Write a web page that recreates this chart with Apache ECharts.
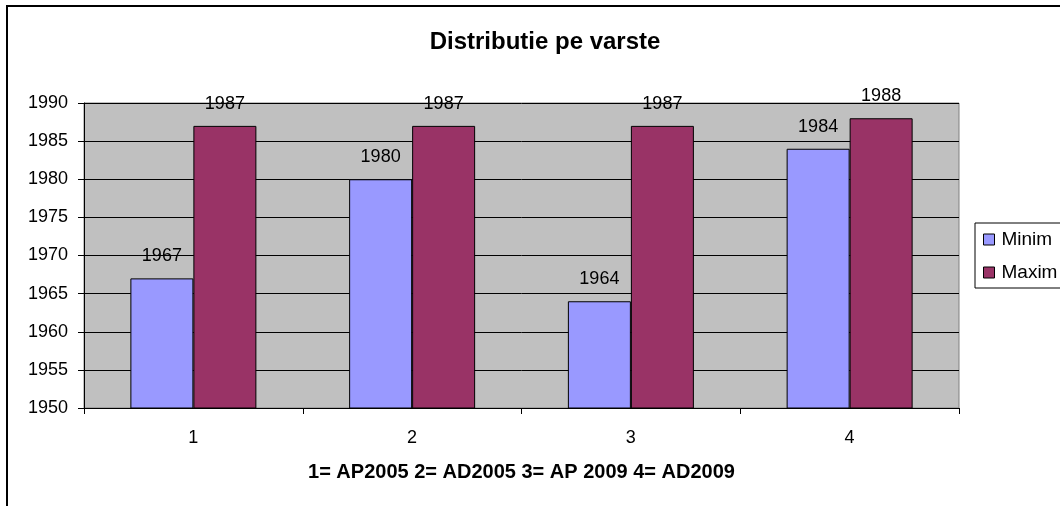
<!DOCTYPE html>
<html>
<head>
<meta charset="utf-8">
<script src="https://cdn.jsdelivr.net/npm/echarts@6/dist/echarts.min.js"></script>
<style>
  html, body { margin: 0; padding: 0; background: #fff; }
  #main { width: 1060px; height: 506px; }
</style>
</head>
<body>
<div id="main"></div>
<script>
// categorii si valori
var categories = ['1', '2', '3', '4'];
var minimVals = [1967, 1980, 1964, 1984];
var maximVals = [1987, 1987, 1987, 1988];
var seriesNames = ['Minim', 'Maxim'];

var fontFam = '"Liberation Sans", Arial, sans-serif';

var myChart = echarts.init(document.getElementById('main'));
var option = {
    animation: false,
    backgroundColor: '#ffffff',
    graphic: [{
        type: 'rect',
        shape: { x: 7, y: 6, width: 1100, height: 600 },
        style: { fill: 'none', stroke: '#000', lineWidth: 2 },
        silent: true
    }],
    title: {
        text: 'Distributie pe varste',
        left: 540,
        textAlign: 'center',
        top: 25,
        textStyle: { fontFamily: fontFam, fontSize: 24, fontWeight: 'bold', color: '#000' }
    },
    legend: {
        data: seriesNames,
        orient: 'vertical',
        left: 975,
        top: 223,
        icon: 'rect',
        itemWidth: 11,
        itemHeight: 11,
        itemGap: 14,
        padding: [7, 40, 6, 8],
        borderColor: '#000',
        borderWidth: 1,
        textStyle: { fontFamily: fontFam, fontSize: 19, color: '#000', padding: [0, 0, 0, 2] },
        itemStyle: { borderColor: '#000', borderWidth: 1 }
    },
    grid: {
        left: 84,
        right: 101,
        top: 103,
        bottom: 98,
        show: true,
        backgroundColor: '#C0C0C0',
        borderColor: '#808080',
        borderWidth: 1
    },
    xAxis: {
        type: 'category',
        data: categories,
        name: '1= AP2005 2= AD2005 3= AP 2009 4= AD2009',
        nameLocation: 'middle',
        nameGap: 54,
        nameTextStyle: { fontFamily: fontFam, fontSize: 20, fontWeight: 'bold', color: '#000' },
        axisLine: { lineStyle: { color: '#000', width: 1 } },
        axisTick: { show: true, length: 6, lineStyle: { color: '#000' } },
        axisLabel: { fontFamily: fontFam, fontSize: 18, color: '#000', margin: 21 }
    },
    yAxis: {
        type: 'value',
        min: 1950,
        max: 1990,
        interval: 5,
        axisLine: { show: true, lineStyle: { color: '#000', width: 1 } },
        axisTick: { show: true, length: 6, lineStyle: { color: '#000' } },
        axisLabel: {
            fontFamily: fontFam, fontSize: 18, color: '#000', margin: 16,
            formatter: function (v) { return String(v); }
        },
        splitLine: { show: true, lineStyle: { color: '#000', width: 1 } }
    },
    series: [
        {
            name: seriesNames[0],
            type: 'bar',
            data: minimVals,
            barWidth: '28.8%',
            barGap: '0%',
            itemStyle: { color: '#9999FF', borderColor: '#000', borderWidth: 1 },
            label: { show: true, position: 'top', distance: 13, fontFamily: fontFam, fontSize: 18, color: '#000' }
        },
        {
            name: seriesNames[1],
            type: 'bar',
            data: maximVals,
            barWidth: '28.8%',
            barGap: '0%',
            itemStyle: { color: '#993366', borderColor: '#000', borderWidth: 1 },
            label: { show: true, position: 'top', distance: 13, fontFamily: fontFam, fontSize: 18, color: '#000' }
        }
    ]
};
myChart.setOption(option);
</script>
</body>
</html>
